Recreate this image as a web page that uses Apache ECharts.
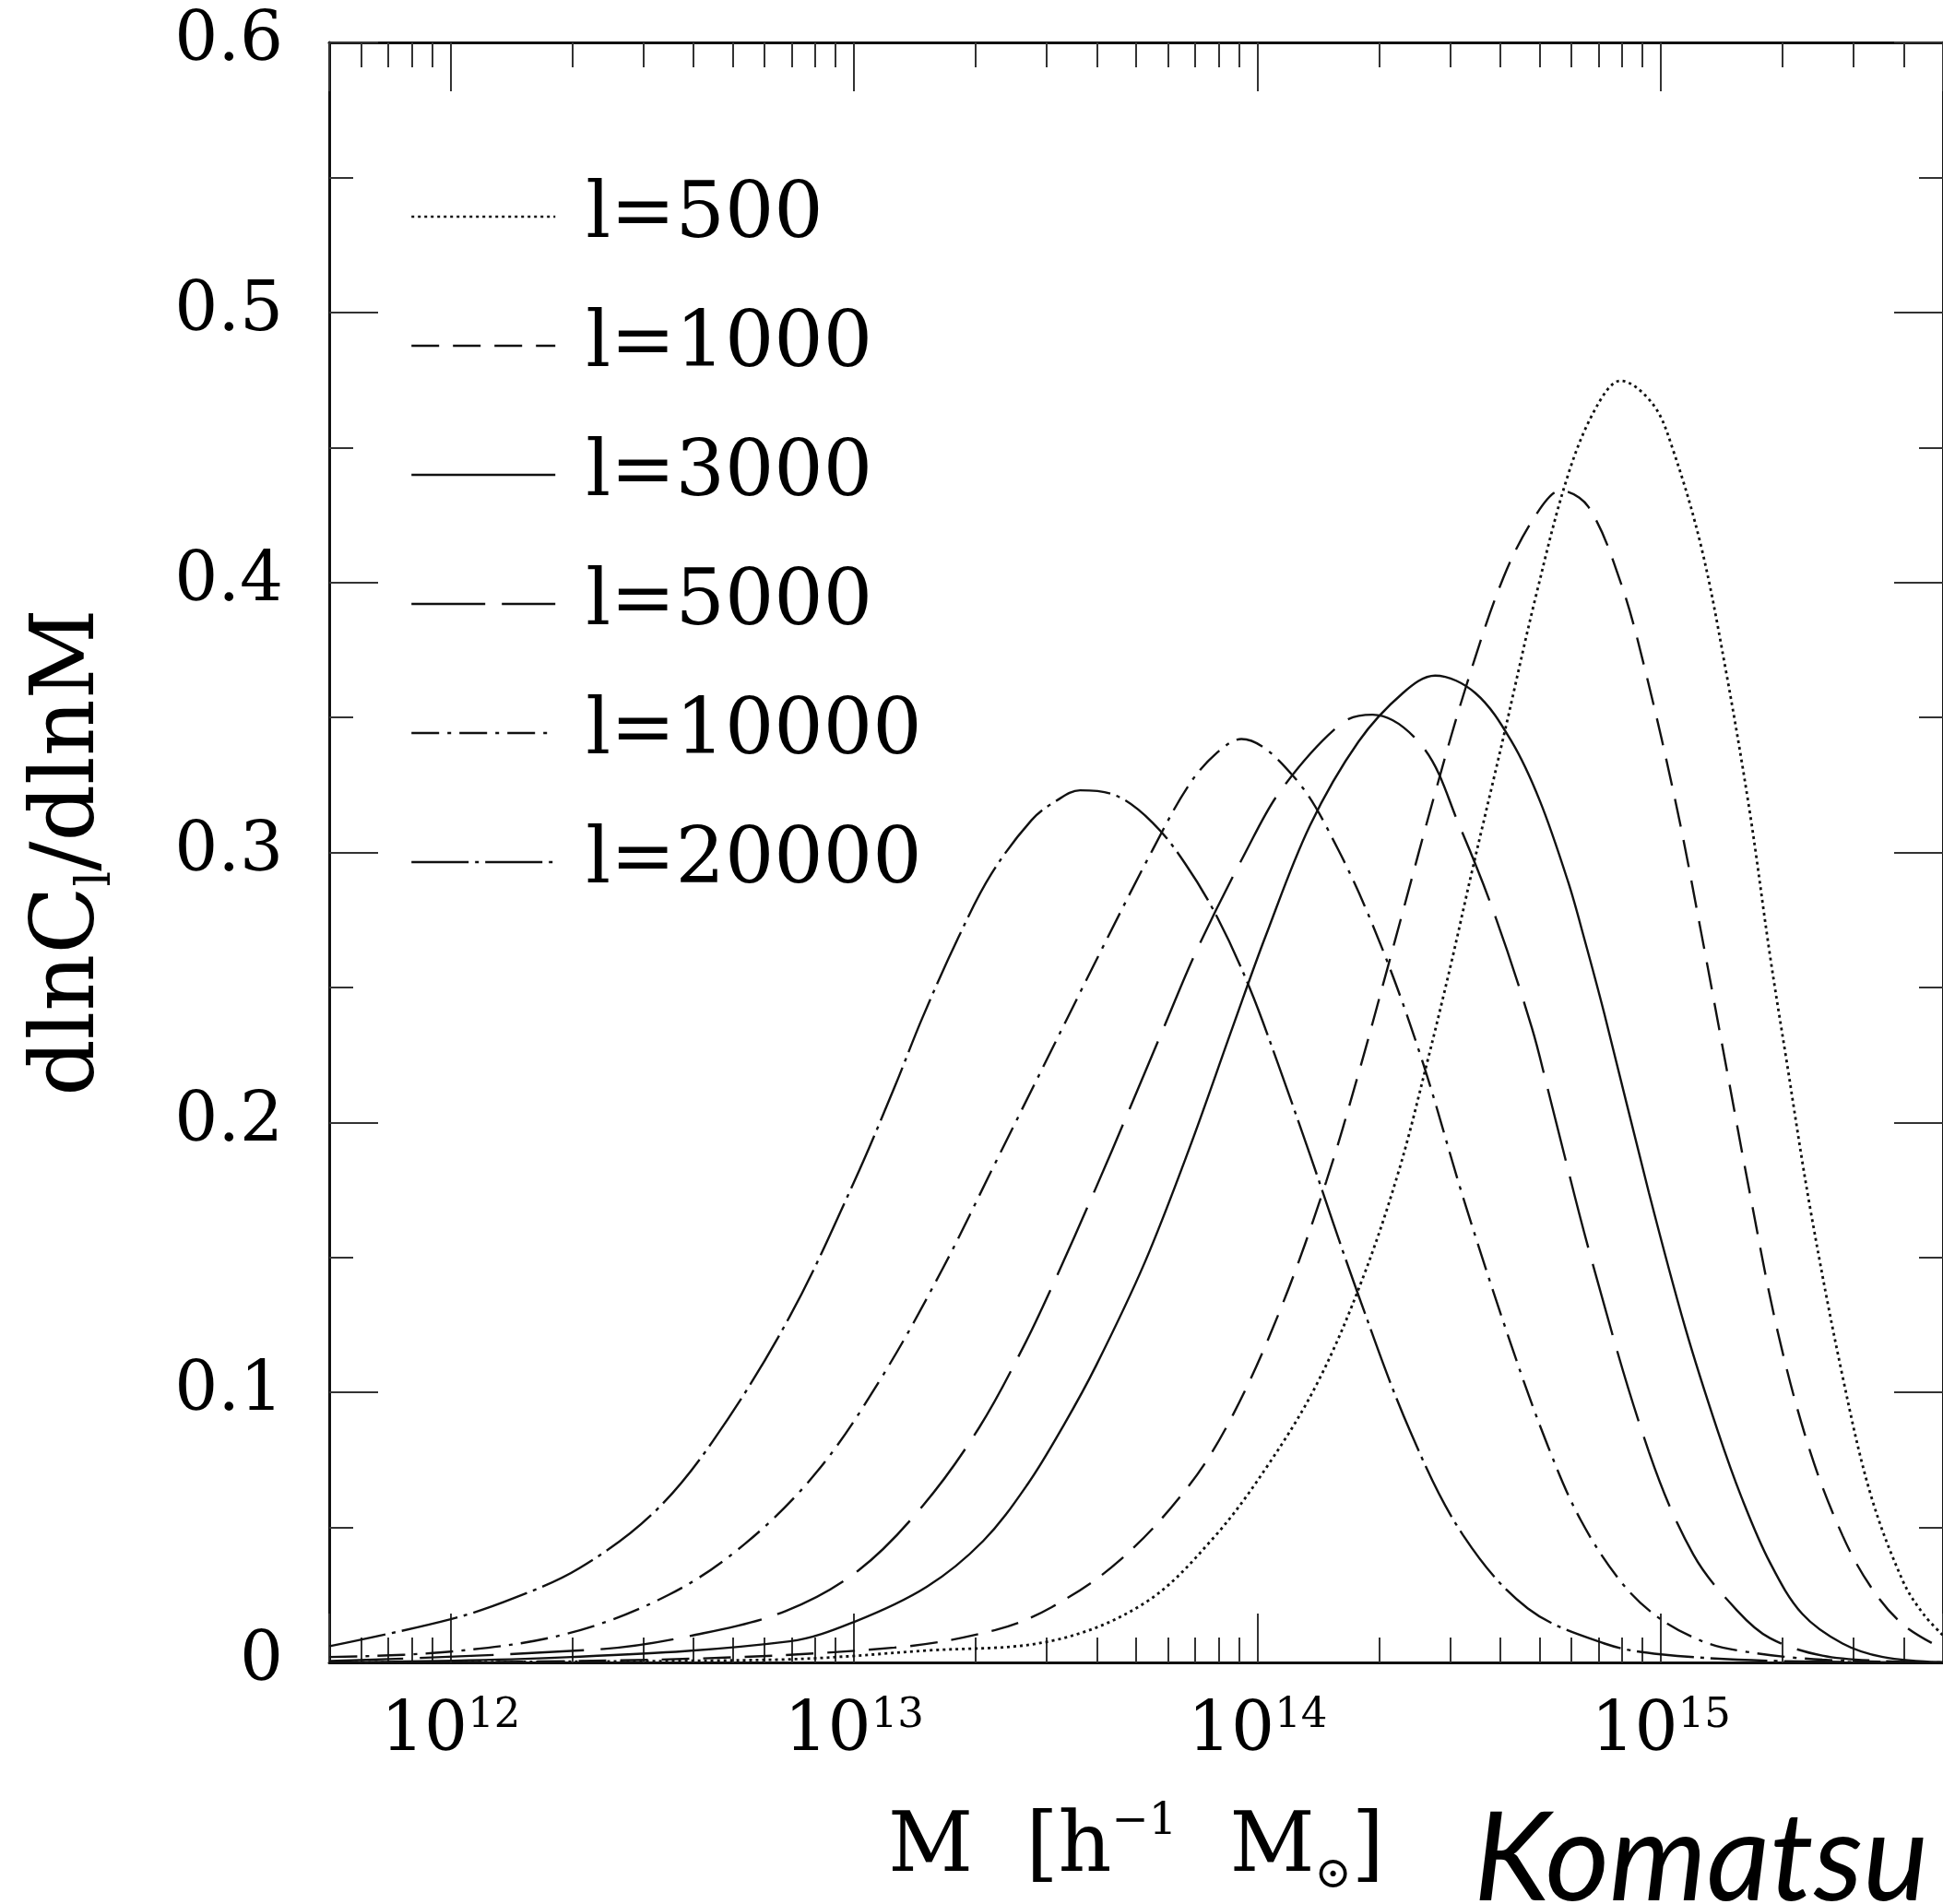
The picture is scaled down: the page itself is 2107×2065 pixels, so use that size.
<!DOCTYPE html>
<html>
<head>
<meta charset="utf-8">
<script src="https://cdn.jsdelivr.net/npm/echarts@6/dist/echarts.min.js"></script>
<style>
html,body{margin:0;padding:0;background:#fff;}
#chart{width:2107px;height:2065px;}
</style>
</head>
<body>
<div id="chart"></div>
<script>
// ---- data ----
const xTickExponents = [12, 13, 14, 15];
const yTickLabels = ['0', '0.1', '0.2', '0.3', '0.4', '0.5', '0.6'];
const seriesNames = ['l=500', 'l=1000', 'l=3000', 'l=5000', 'l=10000', 'l=20000'];

// log10(M) positions and dlnC_l/dlnM values
const logM_l500 = [11.70, 12.80, 13.18, 13.49, 13.72, 13.89, 14.03, 14.15, 14.26, 14.35, 14.42, 14.48, 14.53, 14.61, 14.69, 14.77, 14.84, 14.90, 14.98, 15.03, 15.10, 15.16, 15.22, 15.27, 15.31, 15.37, 15.45, 15.52, 15.60, 15.65, 15.699];
const val_l500  = [0.000, 0.001, 0.0044, 0.008, 0.022, 0.046, 0.074, 0.104, 0.142, 0.182, 0.222, 0.259, 0.292, 0.343, 0.395, 0.440, 0.465, 0.4747, 0.466, 0.449, 0.413, 0.368, 0.315, 0.262, 0.224, 0.168, 0.106, 0.062, 0.030, 0.018, 0.010];

const logM_l1000 = [11.70, 12.50, 13.10, 13.35, 13.49, 13.66, 13.83, 13.94, 14.06, 14.17, 14.25, 14.32, 14.36, 14.44, 14.52, 14.61, 14.69, 14.752, 14.82, 14.90, 14.96, 15.04, 15.10, 15.16, 15.22, 15.29, 15.37, 15.45, 15.52, 15.60, 15.699];
const val_l1000  = [0.000, 0.001, 0.0055, 0.012, 0.0205, 0.038, 0.0655, 0.092, 0.132, 0.178, 0.218, 0.256, 0.278, 0.322, 0.363, 0.402, 0.425, 0.434, 0.428, 0.400, 0.368, 0.316, 0.270, 0.222, 0.174, 0.122, 0.078, 0.047, 0.028, 0.014, 0.005];

const logM_l3000 = [11.70, 12.30, 12.84, 13.00, 13.18, 13.32, 13.43, 13.52, 13.60, 13.72, 13.83, 13.94, 14.02, 14.13, 14.25, 14.36, 14.44, 14.54, 14.63, 14.70, 14.77, 14.81, 14.86, 14.97, 15.06, 15.14, 15.20, 15.27, 15.35, 15.45, 15.55, 15.699];
const val_l3000  = [0.000, 0.002, 0.0078, 0.015, 0.028, 0.045, 0.066, 0.088, 0.110, 0.148, 0.190, 0.236, 0.269, 0.310, 0.341, 0.359, 0.3655, 0.359, 0.341, 0.319, 0.289, 0.268, 0.240, 0.174, 0.124, 0.086, 0.061, 0.037, 0.018, 0.007, 0.002, 0.000];

const logM_l5000 = [11.70, 12.38, 12.60, 12.83, 13.01, 13.17, 13.31, 13.42, 13.49, 13.60, 13.68, 13.77, 13.85, 13.97, 14.06, 14.21, 14.285, 14.41, 14.50, 14.59, 14.68, 14.72, 14.83, 14.97, 15.08, 15.19, 15.27, 15.40, 15.55, 15.699];
const val_l5000  = [0.0005, 0.005, 0.010, 0.019, 0.034, 0.058, 0.087, 0.117, 0.139, 0.176, 0.204, 0.236, 0.264, 0.300, 0.3235, 0.348, 0.351, 0.339, 0.310, 0.276, 0.235, 0.212, 0.148, 0.078, 0.040, 0.019, 0.009, 0.0025, 0.0005, 0.000];

const logM_l10000 = [11.70, 12.00, 12.29, 12.54, 12.73, 12.91, 13.07, 13.22, 13.35, 13.48, 13.61, 13.74, 13.83, 13.90, 13.96, 14.09, 14.20, 14.31, 14.41, 14.51, 14.63, 14.72, 14.80, 14.90, 14.99, 15.10, 15.20, 15.40, 15.699];
const val_l10000  = [0.002, 0.004, 0.0107, 0.025, 0.044, 0.071, 0.106, 0.146, 0.185, 0.224, 0.263, 0.301, 0.325, 0.337, 0.342, 0.328, 0.301, 0.264, 0.222, 0.172, 0.117, 0.080, 0.053, 0.030, 0.017, 0.008, 0.0042, 0.001, 0.000];

const logM_l20000 = [11.70, 12.00, 12.16, 12.32, 12.50, 12.65, 12.84, 13.00, 13.10, 13.17, 13.26, 13.34, 13.44, 13.50, 13.56, 13.65, 13.74, 13.82, 13.90, 13.98, 14.05, 14.13, 14.25, 14.38, 14.51, 14.67, 14.86, 15.00, 15.30, 15.699];
const val_l20000  = [0.006, 0.016, 0.024, 0.035, 0.055, 0.082, 0.128, 0.178, 0.213, 0.239, 0.269, 0.292, 0.312, 0.319, 0.323, 0.321, 0.311, 0.296, 0.276, 0.250, 0.222, 0.188, 0.136, 0.085, 0.047, 0.020, 0.007, 0.003, 0.0005, 0.000];

// ---- build ----
const seriesLogM = [logM_l500, logM_l1000, logM_l3000, logM_l5000, logM_l10000, logM_l20000];
const seriesVals = [val_l500, val_l1000, val_l3000, val_l5000, val_l10000, val_l20000];
const dashTypes = [[3, 4], [30, 15], 'solid', [80, 18], [30, 9, 4, 9], [62, 7, 4, 7]];
const lineWidths = [2.8, 2.4, 2.4, 2.4, 2.4, 2.4];

const SERIF = 'DejaVu Serif';
const INK = '#111';

const series = seriesNames.map((name, i) => ({
  name: name,
  type: 'line',
  xAxisIndex: 0,
  yAxisIndex: 0,
  symbol: 'none',
  showSymbol: false,
  smooth: 0.35,
  animation: false,
  lineStyle: { color: INK, width: lineWidths[i], type: dashTypes[i] },
  data: seriesLogM[i].map((lm, k) => [Math.pow(10, lm), seriesVals[i][k]])
}));

function xLabel(v) {
  const lv = Math.log10(v);
  const e = Math.round(lv);
  if (Math.abs(lv - e) > 1e-6 || xTickExponents.indexOf(e) < 0) return '';
  return '{b|10}{s|' + e + '}';
}
function yLabel(v) {
  const k = Math.round(v * 10);
  return yTickLabels[k] !== undefined ? yTickLabels[k] : '';
}

const frameLine = { show: true, onZero: false, lineStyle: { color: INK, width: 3 } };
const xTick = { show: true, inside: true, length: 53, lineStyle: { color: '#333', width: 2 } };
const xMinor = { show: true, splitNumber: 9, length: 27, lineStyle: { color: '#333', width: 2 } };
const yTick = { show: true, inside: true, length: 53, lineStyle: { color: '#333', width: 2 } };
const yMinor = { show: true, splitNumber: 2, length: 26, lineStyle: { color: '#333', width: 2 } };

const xBase = {
  type: 'log', logBase: 10, min: 5e11, max: 5e15, splitNumber: 4,
  axisLine: frameLine, axisTick: xTick, minorTick: xMinor,
  splitLine: { show: false }, minorSplitLine: { show: false }
};
const yBase = {
  type: 'value', min: 0, max: 0.6, interval: 0.1,
  axisLine: frameLine, axisTick: yTick, minorTick: yMinor,
  splitLine: { show: false }, minorSplitLine: { show: false }
};

const option = {
  backgroundColor: '#ffffff',
  animation: false,
  grid: { left: 357, top: 46, width: 1755, height: 1757, containLabel: false },
  xAxis: [
    Object.assign({}, xBase, {
      position: 'bottom',
      axisLabel: {
        show: true, margin: 36, showMinLabel: false, showMaxLabel: false,
        formatter: xLabel,
        rich: {
          b: { fontFamily: SERIF, fontSize: 74, lineHeight: 80, color: '#000' },
          s: { fontFamily: SERIF, fontSize: 45, lineHeight: 50, verticalAlign: 'top', color: '#000' }
        }
      },
      name: '{n|M  [h}{sup|\u22121}{n|  M}{sub|\u2299}{n|]}',
      nameLocation: 'middle',
      nameGap: 150,
      nameTextStyle: {
        rich: {
          n: { fontFamily: SERIF, fontSize: 90, lineHeight: 106, color: '#000' },
          sup: { fontFamily: SERIF, fontSize: 48, lineHeight: 83, verticalAlign: 'top', color: '#000' },
          sub: { fontFamily: SERIF, fontSize: 48, lineHeight: 32, verticalAlign: 'bottom', color: '#000' }
        }
      }
    }),
    Object.assign({}, xBase, { position: 'top', axisLabel: { show: false } })
  ],
  yAxis: [
    Object.assign({}, yBase, {
      position: 'left',
      axisLabel: { show: true, margin: 50, formatter: yLabel, fontFamily: SERIF, fontSize: 74, color: '#000' },
      name: '{n|dlnC}{sub|l}{n|/dlnM}',
      nameLocation: 'middle',
      nameRotate: 90,
      nameGap: 226,
      nameTextStyle: {
        rich: {
          n: { fontFamily: SERIF, fontSize: 96, lineHeight: 110, color: '#000' },
          sub: { fontFamily: SERIF, fontSize: 52, lineHeight: 30, verticalAlign: 'bottom', color: '#000' }
        }
      }
    }),
    Object.assign({}, yBase, { position: 'right', axisLabel: { show: false } })
  ],
  legend: {
    show: true,
    orient: 'vertical',
    left: 445,
    top: 193,
    padding: 0,
    itemWidth: 156,
    itemHeight: 20,
    itemGap: 56,
    selectedMode: false,
    data: seriesNames,
    itemStyle: { opacity: 0 },
    lineStyle: { width: 2.4, color: INK },
    textStyle: { fontFamily: SERIF, fontSize: 84, lineHeight: 84, color: '#000', padding: [0, 0, 0, 28] }
  },
  graphic: [
    {
      type: 'text',
      x: 1598,
      y: 2018,
      silent: true,
      style: {
        text: 'Komatsu',
        font: 'italic 134px Lato, "Open Sans", sans-serif',
        fill: '#000',
        textAlign: 'left',
        align: 'left',
        textVerticalAlign: 'middle',
        verticalAlign: 'middle'
      }
    }
  ],
  series: series
};

const chart = echarts.init(document.getElementById('chart'), null, { renderer: 'canvas' });
chart.setOption(option);
</script>
</body>
</html>
